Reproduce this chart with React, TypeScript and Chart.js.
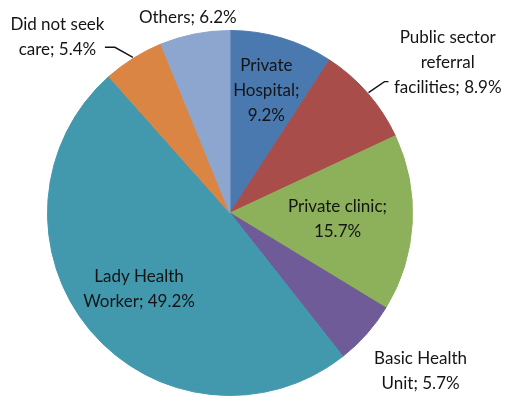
import React, { useEffect, useRef } from "react";
import { Chart, registerables } from "chart.js";

Chart.register(...registerables);

const categories: string[][] = [
  ["Private", "Hospital;", "9.2%"],
  ["Public sector", "referral", "facilities; 8.9%"],
  ["Private clinic;", "15.7%"],
  ["Basic Health", "Unit; 5.7%"],
  ["Lady Health", "Worker; 49.2%"],
  ["Did not seek", "care; 5.4%"],
  ["Others; 6.2%"],
];
const values: number[] = [9.2, 8.9, 15.7, 5.7, 49.2, 5.4, 6.2];
const colors: string[] = ["#4A79B0", "#A94D4B", "#8DB15A", "#6F5B97", "#4299AE", "#DA8543", "#8CA6CF"];

type LabelStyle = {
  frac: number;
  dx: number;
  dy: number;
  leader?: { ex: number; ey: number; hx: number };
};
const labelStyles: LabelStyle[] = [
  { frac: 0.7, dx: 0, dy: 0 },
  { frac: 1, dx: 80, dy: -31, leader: { ex: 16, ey: -11, hx: 4 } },
  { frac: 0.59, dx: 0, dy: 0 },
  { frac: 1, dx: 54, dy: 37 },
  { frac: 0.65, dx: 0, dy: 0 },
  { frac: 1, dx: -76, dy: -21, leader: { ex: -18, ey: -10, hx: -10 } },
  { frac: 1, dx: -7, dy: -16 },
];

const FONT = "17px Lato, 'Open Sans', sans-serif";
const LINE_H = 25;

const labelPlugin = {
  id: "sliceLabels",
  afterDatasetsDraw(chart: any) {
    const ctx = chart.ctx;
    const meta = chart.getDatasetMeta(0);
    ctx.save();
    ctx.font = FONT;
    ctx.fillStyle = "#141414";
    ctx.textAlign = "center";
    ctx.textBaseline = "middle";
    meta.data.forEach((arc: any, i: number) => {
      const st = labelStyles[i];
      const mid = (arc.startAngle + arc.endAngle) / 2;
      const r = arc.outerRadius * st.frac;
      const ax = arc.x + Math.cos(mid) * r;
      const ay = arc.y + Math.sin(mid) * r;
      if (st.leader) {
        const sx = arc.x + Math.cos(mid) * (arc.outerRadius + 1);
        const sy = arc.y + Math.sin(mid) * (arc.outerRadius + 1);
        const ex = sx + st.leader.ex;
        const ey = sy + st.leader.ey;
        ctx.beginPath();
        ctx.strokeStyle = "#141414";
        ctx.lineWidth = 1.4;
        ctx.moveTo(sx, sy);
        ctx.lineTo(ex, ey);
        ctx.lineTo(ex + st.leader.hx, ey);
        ctx.stroke();
      }
      const lines = categories[i];
      const cx = ax + st.dx;
      const cy = ay + st.dy;
      const top = cy - ((lines.length - 1) * LINE_H) / 2;
      lines.forEach((ln, j) => ctx.fillText(ln, cx, top + j * LINE_H));
    });
    ctx.restore();
  },
};

export default function App() {
  const ref = useRef<HTMLCanvasElement>(null);
  useEffect(() => {
    if (!ref.current) return;
    const chart = new Chart(ref.current, {
      type: "pie",
      data: {
        labels: categories.map((c) => c.join(" ")),
        datasets: [
          {
            data: values,
            backgroundColor: colors,
            borderColor: colors,
            borderWidth: 1,
          },
        ],
      },
      options: {
        responsive: false,
        animation: false,
        layout: { padding: { left: 47, right: 94, top: 30, bottom: 7 } },
        plugins: { legend: { display: false }, tooltip: { enabled: false } },
      },
      plugins: [labelPlugin],
    });
    return () => chart.destroy();
  }, []);
  return (
    <div style={{ position: "absolute", left: 0, top: 0, width: 507, height: 403, background: "#fff" }}>
      <canvas ref={ref} width={507} height={403} />
    </div>
  );
}
